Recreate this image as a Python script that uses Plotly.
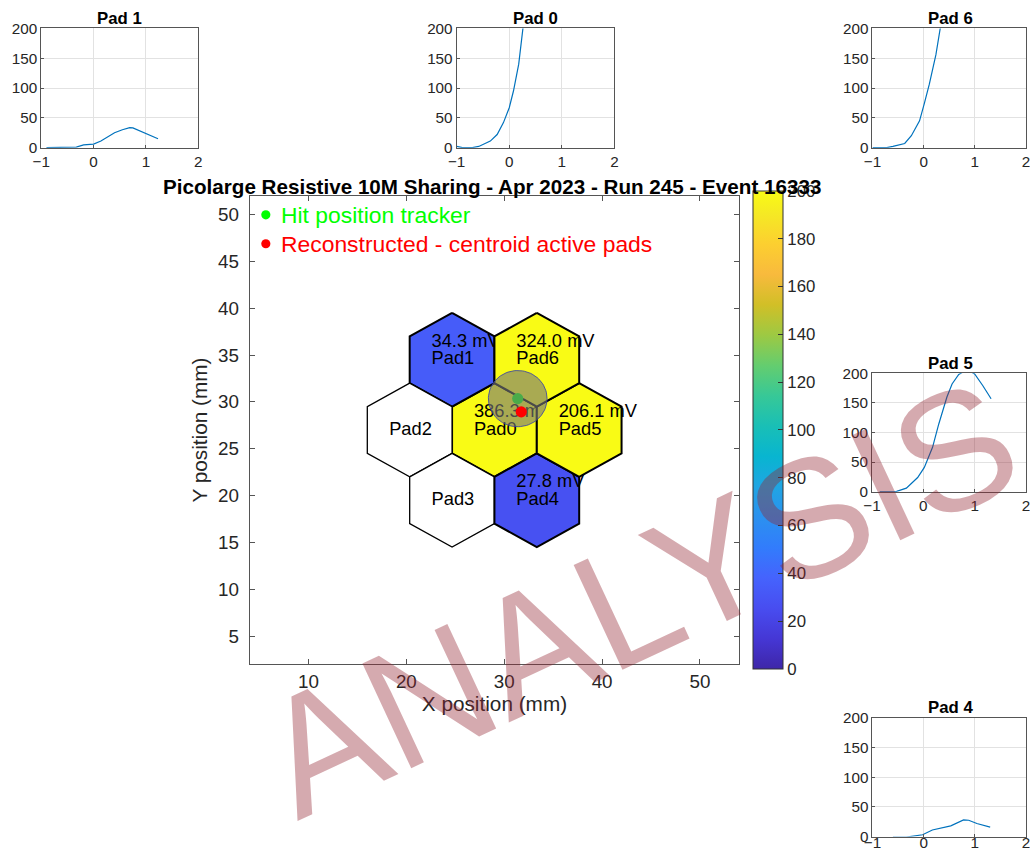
import numpy as np
import plotly.graph_objects as go

# Page geometry: the figure sits in a page with an 8 px body margin and the
# page is shown in a 1030x853 frame, so layout positions are given in frame
# pixels and converted to paper fractions.
W, H = 1030, 853
PAGE_MARGIN = 8
S_X, S_Y = 1030 / (W + 2 * PAGE_MARGIN), 853 / (H + 2 * PAGE_MARGIN)
S = (S_X + S_Y) / 2
FONT = "Liberation Sans, Arial, Helvetica, sans-serif"


def fx(r):
    return (r / S_X - PAGE_MARGIN) / W


def fy(r):
    return 1 - (r / S_Y - PAGE_MARGIN) / H


def fs(size):
    return size / S


# ---- pad geometry (mm): pointy-top hexagons, circumradius 5 mm ----
pad_names = ["Pad0", "Pad1", "Pad2", "Pad3", "Pad4", "Pad5", "Pad6"]
pad_x = [29.0, 24.67, 20.34, 24.67, 33.33, 37.66, 33.33]
pad_y = [27.0, 34.5, 27.0, 19.5, 19.5, 27.0, 34.5]
pad_amp = [386.3, 34.3, None, None, 27.8, 206.1, 324.0]   # peak amplitude, mV
hex_radius = 5.0

# ---- tracker hit and reconstructed centroid (mm) ----
hit_x, hit_y = 31.38, 30.35
reco_x, reco_y = 31.74, 28.94
hit_radius = 3.0

# ---- waveforms (time in ns, amplitude in mV) ----
pad1_t = [-0.9, -0.6, -0.33, -0.19, 0.0, 0.14, 0.4, 0.55, 0.69, 0.75, 0.97, 1.23]
pad1_v = [0, 0, 1, 4.5, 6, 11, 25, 30, 33.5, 33, 25, 15]
pad0_t = [-1.0, -0.89, -0.7, -0.58, -0.36, -0.23, -0.11, 0.0, 0.08, 0.18, 0.26, 0.32]
pad0_v = [2, 0, 0, 2, 11, 22, 42, 67, 95, 140, 200, 240]
pad6_t = [-1.0, -0.72, -0.6, -0.37, -0.24, -0.08, 0.01, 0.11, 0.24, 0.33, 0.4]
pad6_v = [0, 0, 2, 7, 20, 45, 73, 106, 156, 200, 240]
pad5_t = [-0.85, -0.52, -0.33, -0.11, 0.02, 0.18, 0.3, 0.46, 0.56, 0.69, 0.85, 1.0, 1.16, 1.32]
pad5_v = [0, 0.5, 6, 24, 41, 75, 114, 160, 182, 198, 206.1, 199, 179, 157]
pad4_t = [-0.6, -0.34, -0.02, 0.17, 0.53, 0.78, 0.88, 1.04, 1.3]
pad4_v = [-1, -1, 3, 11, 18, 28, 27.5, 22, 16]

wave_x_ticks = [-1, 0, 1, 2]
wave_y_ticks = [0, 50, 100, 150, 200]
main_x_ticks = [10, 20, 30, 40, 50]
main_y_ticks = [5, 10, 15, 20, 25, 30, 35, 40, 45, 50]
cbar_ticks = list(range(0, 201, 20))
X_RANGE, Y_RANGE = [4, 54], [2, 52]

# parula colormap (64-step version, sampled)
parula_rgb = [
    (62, 38, 168), (69, 55, 213), (72, 77, 240), (69, 99, 253), (50, 124, 252),
    (43, 145, 239), (32, 165, 227), (8, 181, 208), (25, 191, 182), (55, 200, 151),
    (100, 205, 111), (157, 201, 67), (209, 191, 39), (248, 186, 61), (252, 207, 48),
    (245, 233, 36), (249, 251, 21),
]
parula_pos = [i * 4 / 63 for i in range(16)] + [1.0]
parula = [[p, "rgb(%d,%d,%d)" % c] for p, c in zip(parula_pos, parula_rgb)]
CMIN, CMAX = 0, 200


def parula_color(v):
    t = min(max((v - CMIN) / (CMAX - CMIN), 0.0), 1.0)
    for i in range(len(parula_pos) - 1):
        if t <= parula_pos[i + 1]:
            f = (t - parula_pos[i]) / (parula_pos[i + 1] - parula_pos[i])
            a, b = parula_rgb[i], parula_rgb[i + 1]
            return "rgb(%d,%d,%d)" % tuple(round(a[k] + f * (b[k] - a[k])) for k in range(3))
    return "rgb(%d,%d,%d)" % parula_rgb[-1]


fig = go.Figure()
layout = dict(
    width=W, height=H, margin=dict(l=0, r=0, t=0, b=0),
    paper_bgcolor="white", plot_bgcolor="white", showlegend=False,
    font=dict(family=FONT, color="#262626"),
)


def overlay_axes(n):
    """Hidden axis pair sharing the map's frame; each one is its own drawing layer."""
    layout["xaxis%d" % n] = dict(overlaying="x", range=X_RANGE, visible=False, anchor="y%d" % n)
    layout["yaxis%d" % n] = dict(overlaying="y", range=Y_RANGE, visible=False, anchor="x%d" % n)
    return "x%d" % n, "y%d" % n


# ---- hexagonal pads with their labels, one layer per pad ----
ang = np.deg2rad(np.arange(90, 90 + 360 + 1, 60))
for i, (name, cx, cy, amp) in enumerate(zip(pad_names, pad_x, pad_y, pad_amp)):
    xa, ya = overlay_axes(20 + i)
    active = amp is not None
    fig.add_trace(go.Scatter(
        x=cx + hex_radius * np.cos(ang), y=cy + hex_radius * np.sin(ang),
        mode="lines", fill="toself",
        fillcolor=parula_color(amp) if active else "white",
        line=dict(color="black", width=2.0 if active else 1.3),
        hoverinfo="skip", showlegend=False, xaxis=xa, yaxis=ya))
    tx, ty, tt = [cx - 2.1], [cy], [name]
    if active:
        tx.append(cx - 2.1)
        ty.append(cy + 1.85)
        tt.append("%.1f mV" % amp)
    fig.add_trace(go.Scatter(
        x=tx, y=ty, text=tt, mode="text", textposition="middle right",
        textfont=dict(family=FONT, size=fs(18), color="black"),
        hoverinfo="skip", showlegend=False, xaxis=xa, yaxis=ya))

# tracker hit, its 3 mm circle, then reconstructed centroid (top layer)
xa, ya = overlay_axes(28)
fig.add_trace(go.Scatter(x=[hit_x], y=[hit_y], mode="markers",
                         marker=dict(color="#00ff00", size=fs(11)),
                         showlegend=False, xaxis=xa, yaxis=ya))
phi = np.linspace(0, 2 * np.pi, 90)
fig.add_trace(go.Scatter(x=hit_x + hit_radius * np.cos(phi), y=hit_y + hit_radius * np.sin(phi),
                         mode="lines", fill="toself", fillcolor="rgba(120,120,120,0.62)",
                         line=dict(color="rgba(50,60,170,0.8)", width=1),
                         hoverinfo="skip", showlegend=False, xaxis=xa, yaxis=ya))
fig.add_trace(go.Scatter(x=[reco_x], y=[reco_y], mode="markers",
                         marker=dict(color="#ff0000", size=fs(11)),
                         showlegend=False, xaxis=xa, yaxis=ya))

# colorbar carrier
fig.add_trace(go.Scatter(
    x=[None], y=[None], mode="markers", showlegend=False, hoverinfo="skip",
    marker=dict(color=[0], colorscale=parula, cmin=CMIN, cmax=CMAX, showscale=True,
                colorbar=dict(x=fx(750), xanchor="left", xpad=0,
                              y=fy(429.5), yanchor="middle", ypad=0,
                              len=469 / S_Y, lenmode="pixels",
                              thickness=30 / S_X, thicknessmode="pixels",
                              outlinecolor="#333", outlinewidth=1,
                              tickvals=cbar_ticks, ticks="inside", ticklen=5, tickcolor="#333",
                              tickfont=dict(family=FONT, size=fs(16.5), color="#262626"))),
    xaxis="x", yaxis="y"))

axis_common = dict(showline=True, linecolor="#555", linewidth=1, mirror="ticks",
                   ticks="inside", tickcolor="#555", zeroline=False)

layout["xaxis"] = dict(domain=[fx(248), fx(736)], range=X_RANGE, tickvals=main_x_ticks,
                       ticklen=5, showgrid=False, tickfont=dict(size=fs(18.5)),
                       title=dict(text="X position (mm)", font=dict(size=fs(20.4)), standoff=2),
                       anchor="y", **axis_common)
layout["yaxis"] = dict(domain=[fy(664), fy(195)], range=Y_RANGE, tickvals=main_y_ticks,
                       ticklen=5, showgrid=False, tickfont=dict(size=fs(18.5)), ticklabelstandoff=6,
                       title=dict(text="Y position (mm)", font=dict(size=fs(20.4)), standoff=4),
                       anchor="x", **axis_common)

annotations = [
    dict(text="<b>Picolarge Resistive 10M Sharing - Apr 2023 - Run 245 - Event 16333</b>",
         x=fx(490), y=fy(186), xref="paper", yref="paper", showarrow=False,
         xanchor="center", yanchor="middle", font=dict(size=fs(20.3), color="black")),
    dict(text="Hit position tracker", x=fx(277), y=fy(214), xref="paper", yref="paper",
         showarrow=False, xanchor="left", yanchor="middle",
         font=dict(size=fs(22.5), color="#00ff00")),
    dict(text="Reconstructed - centroid active pads", x=fx(277), y=fy(243),
         xref="paper", yref="paper", showarrow=False, xanchor="left", yanchor="middle",
         font=dict(size=fs(22.5), color="#ff0000")),
]
shapes = []
for yy, col in ((214, "#00ff00"), (243, "#ff0000")):
    shapes.append(dict(type="circle", xref="paper", yref="paper",
                       xsizemode="pixel", ysizemode="pixel",
                       xanchor=fx(264), yanchor=fy(yy),
                       x0=-fs(4.5), x1=fs(4.5), y0=-fs(4.5), y1=fs(4.5),
                       fillcolor=col, line=dict(width=0)))

# ---- waveform panels ----
panels = [
    ("Pad 1", pad1_t, pad1_v, (40, 27.3, 196.7, 146.7)),
    ("Pad 0", pad0_t, pad0_v, (454.3, 27.3, 611.7, 146.7)),
    ("Pad 6", pad6_t, pad6_v, (869, 27.3, 1025, 146.7)),
    ("Pad 5", pad5_t, pad5_v, (868.5, 372.7, 1025, 491.3)),
    ("Pad 4", pad4_t, pad4_v, (869, 717.7, 1025, 836.7)),
]
for k, (title, t, v, (l, tp, r, b)) in enumerate(panels, start=2):
    xa, ya = "x%d" % k, "y%d" % k
    fig.add_trace(go.Scatter(x=t, y=v, mode="lines", line=dict(color="#0072bd", width=1.2),
                             showlegend=False, xaxis=xa, yaxis=ya))
    small = dict(showline=True, linecolor="#555", linewidth=1, mirror=True,
                 ticks="inside", ticklen=3, tickcolor="#555", zeroline=False,
                 showgrid=True, gridcolor="#e2e2e2", gridwidth=1,
                 tickfont=dict(size=fs(15), color="#262626"))
    x_extra = {}
    if r > 1000:
        # right-hand panels reach the page edge: keep the last time label
        x_extra["ticklabeloverflow"] = "allow"
    if b > 800:
        # the bottom panel's time labels sit right at the lower page edge
        x_extra["ticklabelstandoff"] = -8
    layout["xaxis%d" % k] = dict(domain=[fx(l), min(fx(r), 1.0)], range=[-1, 2],
                                 tickvals=wave_x_ticks, anchor=ya, **small, **x_extra)
    layout["yaxis%d" % k] = dict(domain=[fy(b), fy(tp)], range=[0, 200],
                                 tickvals=wave_y_ticks, anchor=xa, **small)
    annotations.append(dict(text="<b>%s</b>" % title, x=fx((l + r) / 2), y=fy(tp - 10),
                            xref="paper", yref="paper", showarrow=False,
                            xanchor="center", yanchor="middle",
                            font=dict(size=fs(16.5), color="black")))

# watermark
annotations.append(dict(text="ANALYSIS", x=fx(636), y=fy(598), xref="paper", yref="paper",
                        showarrow=False, xanchor="center", yanchor="middle", textangle=-25,
                        font=dict(size=fs(165), color="rgba(146,35,48,0.39)", family=FONT)))

layout["annotations"] = annotations
layout["shapes"] = shapes
fig.update_layout(**layout)
fig.write_html("out.html")
